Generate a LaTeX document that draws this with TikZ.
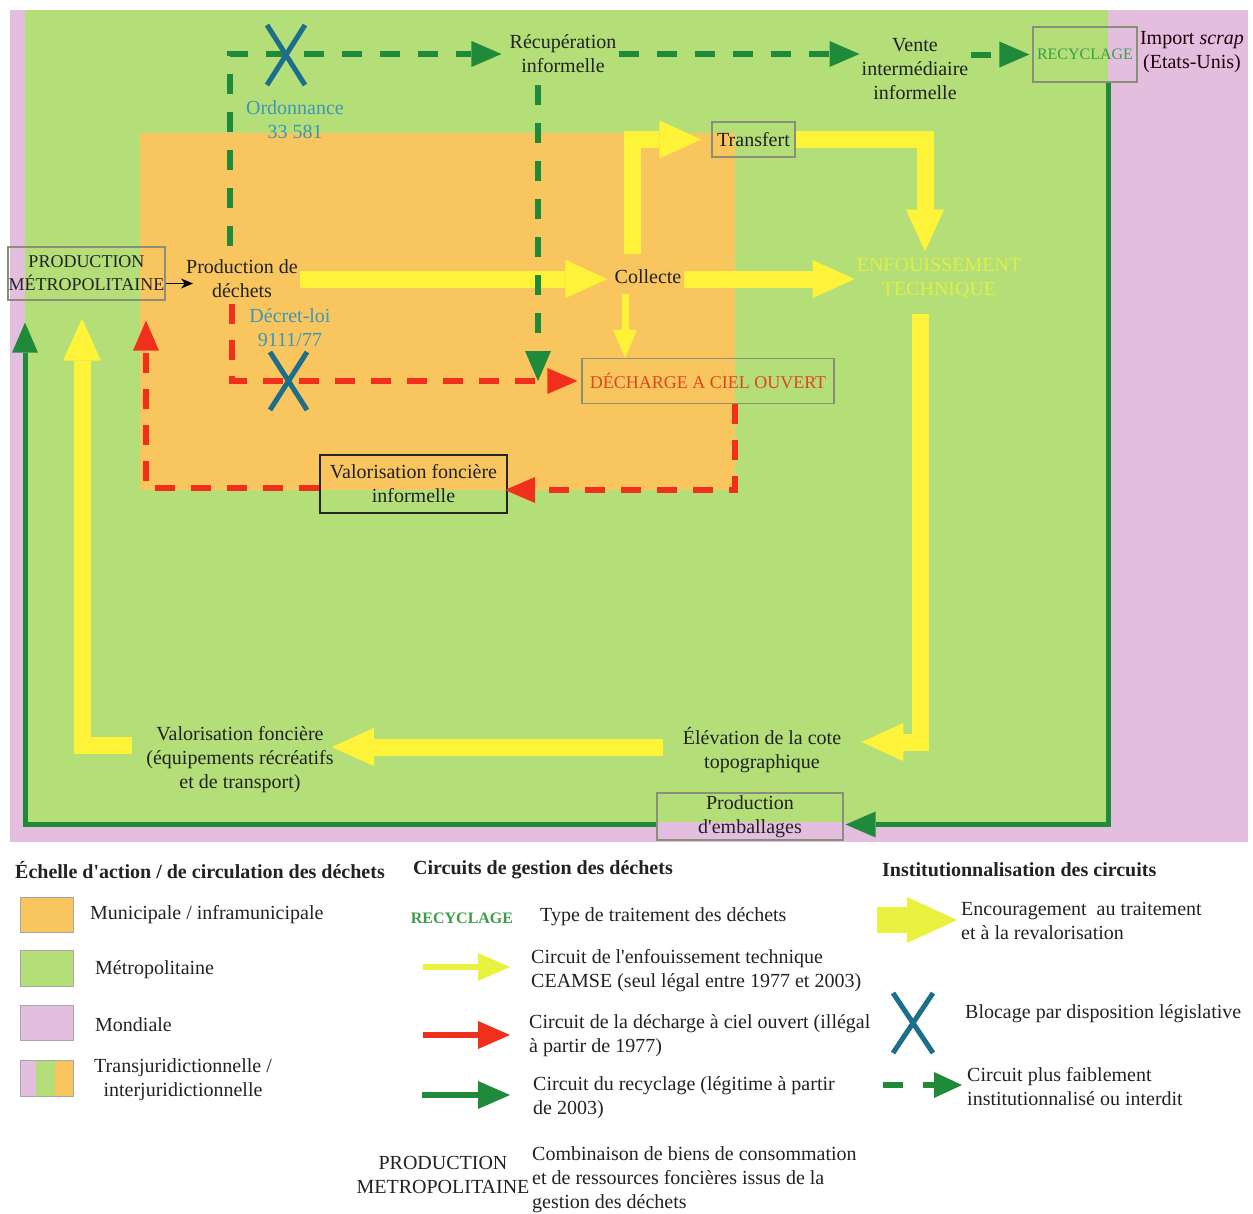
\documentclass[tikz,border=0pt]{standalone}
\usepackage{fontspec}
\setmainfont{Liberation Serif}
\usetikzlibrary{arrows.meta}
\definecolor{cpink}{HTML}{E4BEDF}
\definecolor{cgreen}{HTML}{B3DE78}
\definecolor{corange}{HTML}{F8C55E}
\definecolor{cyellow}{HTML}{FFF33A}
\definecolor{lyellow}{HTML}{E9F23E}
\definecolor{enfyellow}{HTML}{E2EE48}
\definecolor{dgreen}{HTML}{1F8A3A}
\definecolor{cred}{HTML}{F0301C}
\definecolor{xblue}{HTML}{1C6E8C}
\definecolor{tblue}{HTML}{3E97B4}
\definecolor{dred}{HTML}{E0461E}
\definecolor{rgreen}{HTML}{3A9E4A}
\definecolor{boxgray}{HTML}{8A8F7A}
\definecolor{txtc}{HTML}{222222}
\newcommand{\apos}{\textquotesingle}
\begin{document}
\begin{tikzpicture}[x=1pt,y=-1pt,font=\fontsize{20}{24}\selectfont,text=txtc,
  txt/.style={align=center,inner sep=2pt},
  ltxt/.style={align=left,anchor=west,inner sep=0pt},
  gbox/.style={draw=boxgray,line width=1.2pt,align=center,inner sep=0pt},
  yarr/.style={draw=cyellow,line width=17pt,-{Triangle[width=38pt,length=42pt,line width=0pt]}},
  ysmall/.style={draw=cyellow,line width=7pt,-{Triangle[width=24pt,length=28pt,line width=0pt]}},
  rdash/.style={draw=cred,line width=6pt,dash pattern=on 20pt off 16pt,-{Triangle[width=26pt,length=30pt,line width=0pt]}},
  gdash/.style={draw=dgreen,line width=6pt,dash pattern=on 20pt off 18pt,-{Triangle[width=26pt,length=30pt,line width=0pt]}},
  gsolid/.style={draw=dgreen,line width=5pt,-{Triangle[width=26pt,length=30pt,line width=0pt]}},
  xmark/.style={draw=xblue,line width=5pt},
  legarr/.style={line width=6pt,-{Triangle[width=28pt,length=32pt,line width=0pt]}},
  swatch/.style={draw=gray!70,line width=0.8pt}]
\useasboundingbox (0,0) rectangle (1253,1213);
\fill[white] (0,0) rectangle (1253,1213);
% zones
\fill[cpink] (10,10) rectangle (1248,842);
\fill[cgreen] (25,10) rectangle (1108,822);
\fill[corange] (140,133) rectangle (735,490);

% nodes
\node[gbox,minimum width=157pt,minimum height=53pt,font=\fontsize{18}{23}\selectfont] (pm) at (86.5,273.5) {PRODUCTION\\MÉTROPOLITAINE};
\node[txt] (pd) at (242,279) {Production de\\déchets};
\node[txt] (col) at (648,277) {Collecte};
\node[gbox,minimum width=83pt,minimum height=35pt] (tr) at (753.5,139.5) {Transfert};
\node[txt,text=enfyellow] (enf) at (939,278) {ENFOUISSEMENT\\TECHNIQUE};
\node[gbox,minimum width=252pt,minimum height=45pt,text=dred,font=\fontsize{18}{22}\selectfont] (dech) at (708,381) {DÉCHARGE A CIEL OUVERT};
\node[txt] (rec) at (563,54) {Récupération\\informelle};
\node[txt] (vente) at (915,69) {Vente\\intermédiaire\\informelle};
\node[gbox,minimum width=104pt,minimum height=55pt,text=rgreen,font=\fontsize{16}{20}\selectfont] (recy) at (1085,54.5) {RECYCLAGE};
\node[txt,text=black!85!purple] (imp) at (1192,52) {Import \textit{scrap}\\(Etats-Unis)};
\node[txt,text=tblue] (ord) at (295,120) {Ordonnance\\33 581};
\node[txt,text=tblue] (dec) at (290,328) {Décret-loi\\9111/77};
\node[draw=black!85,line width=2pt,align=center,inner sep=0pt,minimum width=187pt,minimum height=58pt] (vinf) at (413.5,484) {Valorisation foncière\\informelle};
\node[txt] (elev) at (762,750) {Élévation de la cote\\topographique};
\node[txt] (vf) at (240,760) {Valorisation foncière\\(équipements récréatifs\\et de transport)};
\node[gbox,minimum width=186pt,minimum height=47pt] (emb) at (750,816.5) {Production\\d\apos emballages};

% yellow circuit
\draw[yarr,shorten >=5pt] (pd.east) -- (pd.east -| col.west);
\draw[yarr] (col.east |- pd.east) -- (pd.east -| enf.west);
\draw[yarr,shorten <=14pt,shorten >=10pt] ([xshift=-16pt]col.north) |- (tr.west);
\draw[yarr,shorten >=4pt] (tr.east) -| ([xshift=-14pt]enf.north);
\draw[yarr,shorten <=14pt,shorten >=18pt] ([xshift=-19pt]enf.south) |- ([yshift=8pt]elev.east);
\draw[yarr,shorten <=18pt,shorten >=-4pt] ([yshift=3pt]elev.west) -- ([yshift=3pt]elev.west -| vf.east);
\draw[yarr,shorten <=12pt,shorten >=18pt] ([yshift=15pt]vf.west) -| ([xshift=-4.5pt]pm.south);
\draw[ysmall,shorten <=8pt] ([xshift=-23pt]col.south) -- ([xshift=-83pt]dech.north);

% red circuit
\draw[rdash,shorten <=4pt,shorten >=4pt] ([xshift=-10pt]pd.south) |- (dech.west);
\draw[rdash,shorten >=-3pt] ([xshift=27pt]dech.south) |- ([yshift=-6pt]vinf.east);
\draw[rdash,shorten >=20pt] ([yshift=-4pt]vinf.west) -| ([xshift=59.5pt]pm.south);

% green dashed circuit
\draw[gdash,shorten <=12pt,shorten >=6pt] ([xshift=-12pt]pd.north) |- (rec.west);
\draw[gdash] (rec.east) -- (rec.east -| vente.west);
\draw[gdash,shorten >=3pt] (vente.east |- recy.west) -- (recy.west);
\draw[gdash,shorten <=10pt] ([xshift=-25pt]rec.south) -- ([xshift=-25pt]rec.south |- dech.west);

% green solid circuit
\draw[gsolid,shorten >=22pt] ([yshift=-8pt]emb.west) -| ([xshift=-61.5pt]pm.south);
\draw[gsolid,shorten >=2pt] ([xshift=23pt]recy.south) |- ([yshift=-8pt]emb.east);

% black arrow
\draw[line width=1.5pt,-{Stealth[length=12pt,width=10pt]},shorten >=-9pt] ([yshift=-10pt]pm.east) -- ([yshift=-10pt]pm.east -| pd.west);

% blocking marks
\draw[xmark] (267,25) -- (305,85) (305,25) -- (267,85);
\draw[xmark] (270,352) -- (307,410) (307,352) -- (270,410);

% ---------- legend ----------
\node[ltxt,font=\fontsize{20}{24}\selectfont\bfseries] (l1) at (15,870) {Échelle d\apos action / de circulation des déchets};
\node[ltxt,font=\fontsize{20}{24}\selectfont\bfseries] (l2) at (413,870) {Circuits de gestion des déchets};
\node[ltxt,font=\fontsize{20}{24}\selectfont\bfseries] (l3) at (882,870) {Institutionnalisation des circuits};

\fill[corange] (20,897) rectangle (73,932);
\draw[swatch] (20,897) rectangle (73,932);
\fill[cgreen] (20,950) rectangle (73,986);
\draw[swatch] (20,950) rectangle (73,986);
\fill[cpink] (20,1005) rectangle (73,1040);
\draw[swatch] (20,1005) rectangle (73,1040);
\fill[cpink] (20,1060) rectangle (36,1096);
\fill[cgreen] (36,1060) rectangle (55,1096);
\fill[corange] (55,1060) rectangle (73,1096);
\draw[swatch] (20,1060) rectangle (73,1096);
\node[ltxt] (s1) at (90,915) {Municipale / inframunicipale};
\node[ltxt] (s2) at (95,970) {Métropolitaine};
\node[ltxt] (s3) at (95,1025) {Mondiale};
\node[txt] (s4) at (183,1080) {Transjuridictionnelle /\\interjuridictionnelle};

\node[txt,text=rgreen,font=\fontsize{16}{20}\selectfont\bfseries] (lrec) at (462,918) {RECYCLAGE};
\node[ltxt] (c0) at (540,917) {Type de traitement des déchets};
\coordinate (ya) at (423,967); \coordinate (yb) at (510,967);
\draw[legarr,draw=lyellow] (ya) -- (yb);
\node[ltxt] (c1) at (531,971) {Circuit de l\apos enfouissement technique\\CEAMSE (seul légal entre 1977 et 2003)};
\coordinate (ra) at (423,1035); \coordinate (rb) at (510,1035);
\draw[legarr,draw=cred] (ra) -- (rb);
\node[ltxt] (c2) at (529,1036) {Circuit de la décharge à ciel ouvert (illégal\\à partir de 1977)};
\coordinate (ga) at (422,1095); \coordinate (gb) at (510,1095);
\draw[legarr,draw=dgreen] (ga) -- (gb);
\node[ltxt] (c3) at (533,1098) {Circuit du recyclage (légitime à partir\\de 2003)};
\node[txt] (c4) at (443,1175) {PRODUCTION\\METROPOLITAINE};
\node[ltxt] (c5) at (532,1180) {Combinaison de biens de consommation\\et de ressources foncières issus de la\\gestion des déchets};

\coordinate (ea) at (877,920); \coordinate (eb) at (957,920);
\draw[draw=lyellow,line width=26pt,-{Triangle[width=46pt,length=50pt,line width=0pt]}] (ea) -- (eb);
\node[ltxt] (i1) at (961,921) {Encouragement\ \ au traitement\\et à la revalorisation};
\draw[xmark] (893,993) -- (933,1053) (933,993) -- (893,1053);
\node[ltxt] (i2) at (965,1014) {Blocage par disposition législative};
\coordinate (da) at (883,1085); \coordinate (db) at (903,1085);
\coordinate (dc) at (923,1085); \coordinate (dd) at (962,1085);
\draw[draw=dgreen,line width=6pt] (da) -- (db);
\draw[draw=dgreen,line width=6pt,-{Triangle[width=26pt,length=28pt,line width=0pt]}] (dc) -- (dd);
\node[ltxt] (i3) at (967,1087) {Circuit plus faiblement\\institutionnalisé ou interdit};
\end{tikzpicture}
\end{document}
